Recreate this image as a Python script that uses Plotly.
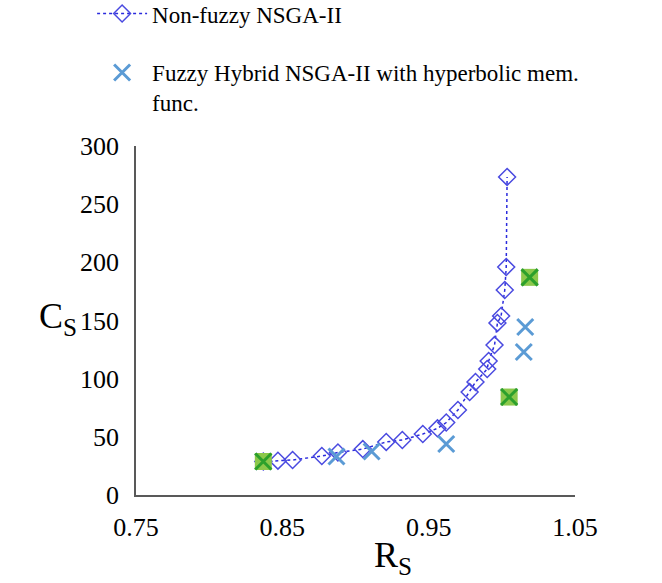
import plotly.graph_objects as go

# Non-fuzzy NSGA-II Pareto front
rs_nonfuzzy = [0.837, 0.847, 0.857, 0.877, 0.888, 0.905, 0.921, 0.932, 0.946, 0.956,
               0.962, 0.970, 0.978, 0.982, 0.990, 0.991, 0.995, 0.997, 0.9995, 1.002,
               1.003, 1.0036]
cs_nonfuzzy = [28.8, 29.5, 30.1, 33.5, 36.5, 39.5, 45.6, 47.3, 52.4, 57.3,
               62.3, 73.1, 88.5, 97.1, 108.3, 115.2, 128.9, 147.9, 153.9, 176.2,
               196.0, 273.4]

# Fuzzy hybrid NSGA-II with hyperbolic membership function
rs_fuzzy = [0.837, 0.887, 0.911, 0.962, 1.005, 1.015, 1.016, 1.019]
cs_fuzzy = [28.8, 33.1, 37.4, 43.8, 84.2, 122.9, 144.4, 187.1]

# Highlighted (selected) solutions
rs_selected = [0.837, 1.005, 1.019]
cs_selected = [28.8, 84.2, 187.1]

x_ticks = [0.75, 0.85, 0.95, 1.05]
y_ticks = [0, 50, 100, 150, 200, 250, 300]

FONT = "Liberation Serif"

fig = go.Figure()

fig.add_trace(go.Scatter(
    x=rs_nonfuzzy, y=cs_nonfuzzy, mode="lines+markers",
    name="Non-fuzzy NSGA-II", legendgroup="a",
    line=dict(color="#2b2bdd", width=1.5, dash="dot"),
    marker=dict(symbol="diamond-open", size=13, color="#4a4ae0",
                line=dict(width=1.5, color="#4a4ae0")),
))

fig.add_trace(go.Scatter(
    x=rs_fuzzy, y=cs_fuzzy, mode="markers",
    name="Fuzzy Hybrid NSGA-II with hyperbolic mem.<br>func.", legendgroup="b",
    marker=dict(symbol="x-thin-open", size=16, color="#5b9bd5",
                line=dict(width=3, color="#5b9bd5")),
))

fig.add_trace(go.Scatter(
    x=rs_selected, y=cs_selected, mode="markers", showlegend=False,
    marker=dict(symbol="square", size=17, color="#8cc84b",
                line=dict(width=0)),
))
fig.add_trace(go.Scatter(
    x=rs_selected, y=cs_selected, mode="markers", showlegend=False,
    marker=dict(symbol="x-thin-open", size=16, color="#2ca02c",
                line=dict(width=3, color="#2ca02c")),
))

fig.update_layout(
    width=662, height=583,
    margin=dict(l=136, r=87, t=146, b=88, autoexpand=False),
    paper_bgcolor="white", plot_bgcolor="white",
    font=dict(family=FONT, color="black", size=23),
    legend=dict(x=-0.1, y=1.441, xanchor="left", yanchor="top",
                font=dict(family=FONT, size=23, color="black"),
                itemwidth=50,
                tracegroupgap=26, valign="top", bgcolor="rgba(0,0,0,0)"),
    xaxis=dict(range=[0.75, 1.05], tickvals=x_ticks,
               ticktext=[f"{v:.2f}" for v in x_ticks],
               showgrid=False, zeroline=False, showline=True,
               linecolor="#595959", linewidth=1.5, ticks="",
               tickfont=dict(family=FONT, size=26, color="black"),
               ticklabelstandoff=8),
    yaxis=dict(range=[0, 300], tickvals=y_ticks,
               showgrid=False, zeroline=False, showline=True,
               linecolor="#595959", linewidth=1.5, ticks="",
               tickfont=dict(family=FONT, size=26, color="black"),
               ticklabelstandoff=10),
    annotations=[
        dict(text="C<sub>S</sub>", xref="paper", yref="paper",
             x=-0.178, y=0.507, xanchor="center", yanchor="middle",
             showarrow=False,
             font=dict(family=FONT, size=36, color="black")),
        dict(text="R<sub>S</sub>", xref="paper", yref="paper",
             x=0.585, y=-0.178, xanchor="center", yanchor="middle",
             showarrow=False,
             font=dict(family=FONT, size=36, color="black")),
    ],
)

fig.write_html("out.html")
